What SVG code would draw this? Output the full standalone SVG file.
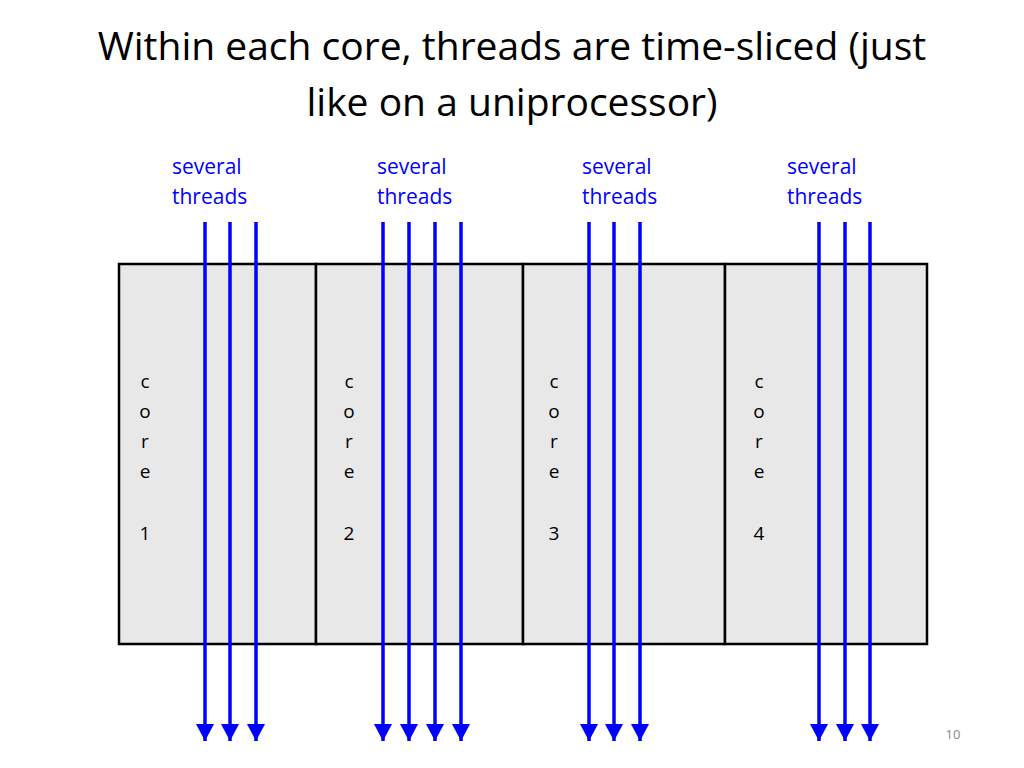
<svg xmlns="http://www.w3.org/2000/svg" width="1024" height="768" viewBox="0 0 1024 768">
<defs>
<style>
.t{font-family:"Open Sans",Lato,sans-serif;}
.title{font-size:39px;fill:#000;text-anchor:middle}
.lbl{font-size:21px;fill:#0000ff}
.core{font-size:19px;fill:#000;text-anchor:middle}
.th{stroke:#0000ff;stroke-width:3.5;fill:none;marker-end:url(#ah)}
.box{fill:#e8e8e8;stroke:#000;stroke-width:2.5}
</style>
<marker id="ah" markerUnits="userSpaceOnUse" markerWidth="18" markerHeight="20" refX="17" refY="10" orient="auto" viewBox="0 0 18 20"><path d="M0,1 L17,10 L0,19 Z" fill="#0000ff"/></marker>
</defs>
<rect width="1024" height="768" fill="#fff"/>
<text class="t title" x="512" y="60">Within each core, threads are time-sliced (just</text>
<text class="t title" x="512" y="116">like on a uniprocessor)</text>
<g id="core1"><rect class="box" x="119" y="264" width="197" height="380"/><text class="t core"><tspan x="145" y="388">c</tspan><tspan x="145" y="418">o</tspan><tspan x="145" y="448">r</tspan><tspan x="145" y="478">e</tspan><tspan x="145" y="540">1</tspan></text></g>
<g id="core2"><rect class="box" x="316" y="264" width="207" height="380"/><text class="t core"><tspan x="349" y="388">c</tspan><tspan x="349" y="418">o</tspan><tspan x="349" y="448">r</tspan><tspan x="349" y="478">e</tspan><tspan x="349" y="540">2</tspan></text></g>
<g id="core3"><rect class="box" x="523" y="264" width="202" height="380"/><text class="t core"><tspan x="554" y="388">c</tspan><tspan x="554" y="418">o</tspan><tspan x="554" y="448">r</tspan><tspan x="554" y="478">e</tspan><tspan x="554" y="540">3</tspan></text></g>
<g id="core4"><rect class="box" x="725" y="264" width="202" height="380"/><text class="t core"><tspan x="759" y="388">c</tspan><tspan x="759" y="418">o</tspan><tspan x="759" y="448">r</tspan><tspan x="759" y="478">e</tspan><tspan x="759" y="540">4</tspan></text></g>
<g id="labels">
<text class="t lbl" x="172" y="174">several</text><text class="t lbl" x="172" y="204">threads</text>
<text class="t lbl" x="377" y="174">several</text><text class="t lbl" x="377" y="204">threads</text>
<text class="t lbl" x="582" y="174">several</text><text class="t lbl" x="582" y="204">threads</text>
<text class="t lbl" x="787" y="174">several</text><text class="t lbl" x="787" y="204">threads</text>
</g>
<g id="connectors">
<path class="th" d="M205,222V741"/><path class="th" d="M230,222V741"/><path class="th" d="M256,222V741"/>
<path class="th" d="M383,222V741"/><path class="th" d="M409,222V741"/><path class="th" d="M435,222V741"/><path class="th" d="M461,222V741"/>
<path class="th" d="M589,222V741"/><path class="th" d="M614,222V741"/><path class="th" d="M640,222V741"/>
<path class="th" d="M819,222V741"/><path class="th" d="M845,222V741"/><path class="th" d="M870,222V741"/>
</g>
<text class="t" x="953" y="739" font-size="13" fill="#888" text-anchor="middle">10</text>
</svg>
